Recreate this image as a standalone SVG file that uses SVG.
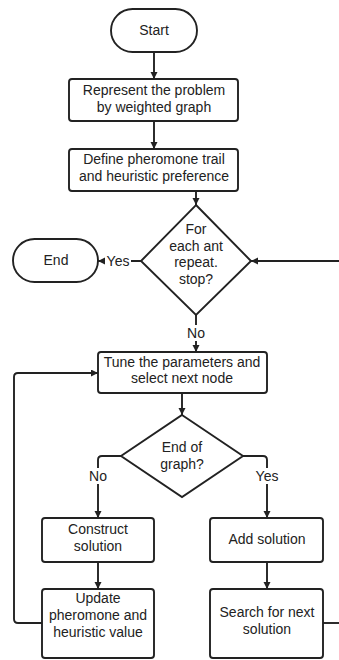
<svg xmlns="http://www.w3.org/2000/svg" width="339" height="660" viewBox="0 0 339 660">
  <defs>
    <marker id="arrow" markerUnits="userSpaceOnUse" markerWidth="8" markerHeight="8" refX="7" refY="3.5" orient="auto">
      <path d="M0,0 L7,3.5 L0,7 z" fill="#222"/>
    </marker>
    <style>
      .shape { fill: #fff; stroke: #222; stroke-width: 1.9; }
      .edge { fill: none; stroke: #222; stroke-width: 1.9; marker-end: url(#arrow); }
      .line { fill: none; stroke: #222; stroke-width: 1.9; }
      text { font-family: "Liberation Sans", Arial, sans-serif; font-size: 14px; fill: #222; text-anchor: middle; }
      .lbl { fill: #fff; stroke: none; }
    </style>
  </defs>
  <rect width="339" height="660" fill="#fff"/>

  <g id="connectors">
    <path class="edge" d="M154,52 V79"/>
    <path class="edge" d="M154,121 V149"/>
    <path class="edge" d="M196,191 V205"/>
    <path class="edge" d="M141,261 H98"/>
    <path class="edge" d="M339,261 H251"/>
    <path class="edge" d="M196,315 V352"/>
    <path class="edge" d="M182,393 V415"/>
    <path class="edge" d="M121,456 H102 Q98,456 98,460 V518"/>
    <path class="edge" d="M243,456 H263 Q267,456 267,460 V518"/>
    <path class="edge" d="M98,562 V589"/>
    <path class="edge" d="M267,562 V589"/>
    <path class="edge" d="M42,623 H18 Q14,623 14,619 V377 Q14,373 18,373 H98"/>
    <path class="line" d="M323,623 H339"/>
    <!-- branch labels -->
    <rect class="lbl" x="105" y="253" width="26" height="16"/>
    <text x="118" y="266">Yes</text>
    <rect class="lbl" x="185" y="325" width="22" height="16"/>
    <text x="196" y="338">No</text>
    <rect class="lbl" x="87" y="468" width="22" height="16"/>
    <text x="98" y="481">No</text>
    <rect class="lbl" x="253" y="468" width="28" height="16"/>
    <text x="267" y="481">Yes</text>
  </g>

  <g id="start">
    <rect class="shape" x="111" y="9" width="86" height="43" rx="21.5"/>
    <text x="154" y="35">Start</text>
  </g>

  <g id="represent">
    <rect class="shape" x="69" y="79" width="169" height="42" rx="3"/>
    <text x="154" y="95">Represent the problem</text>
    <text x="154" y="112">by weighted graph</text>
  </g>

  <g id="define">
    <rect class="shape" x="69" y="149" width="169" height="42" rx="3"/>
    <text x="154" y="164">Define pheromone trail</text>
    <text x="154" y="181">and heuristic preference</text>
  </g>

  <g id="repeat-check">
    <polygon class="shape" points="196,205 251,261 196,315 141,261"/>
    <text x="196" y="234">For</text>
    <text x="196" y="251">each ant</text>
    <text x="196" y="267">repeat.</text>
    <text x="196" y="284">stop?</text>
  </g>

  <g id="end">
    <rect class="shape" x="13" y="239" width="85" height="43" rx="21.5"/>
    <text x="56" y="265">End</text>
  </g>

  <g id="tune">
    <rect class="shape" x="98" y="352" width="169" height="41" rx="3"/>
    <text x="182" y="367">Tune the parameters and</text>
    <text x="182" y="383">select next node</text>
  </g>

  <g id="graph-end-check">
    <polygon class="shape" points="182,415 243,456 182,497 121,456"/>
    <text x="182" y="452">End of</text>
    <text x="182" y="469">graph?</text>
  </g>

  <g id="construct">
    <rect class="shape" x="42" y="518" width="112" height="44" rx="3"/>
    <text x="98" y="534">Construct</text>
    <text x="98" y="551">solution</text>
  </g>

  <g id="update">
    <rect class="shape" x="42" y="589" width="112" height="69" rx="3"/>
    <text x="98" y="603">Update</text>
    <text x="98" y="620">pheromone and</text>
    <text x="98" y="637">heuristic value</text>
  </g>

  <g id="add">
    <rect class="shape" x="210" y="518" width="113" height="44" rx="3"/>
    <text x="267" y="544">Add solution</text>
  </g>

  <g id="search">
    <rect class="shape" x="210" y="589" width="113" height="69" rx="3"/>
    <text x="267" y="617">Search for next</text>
    <text x="267" y="634">solution</text>
  </g>
</svg>
